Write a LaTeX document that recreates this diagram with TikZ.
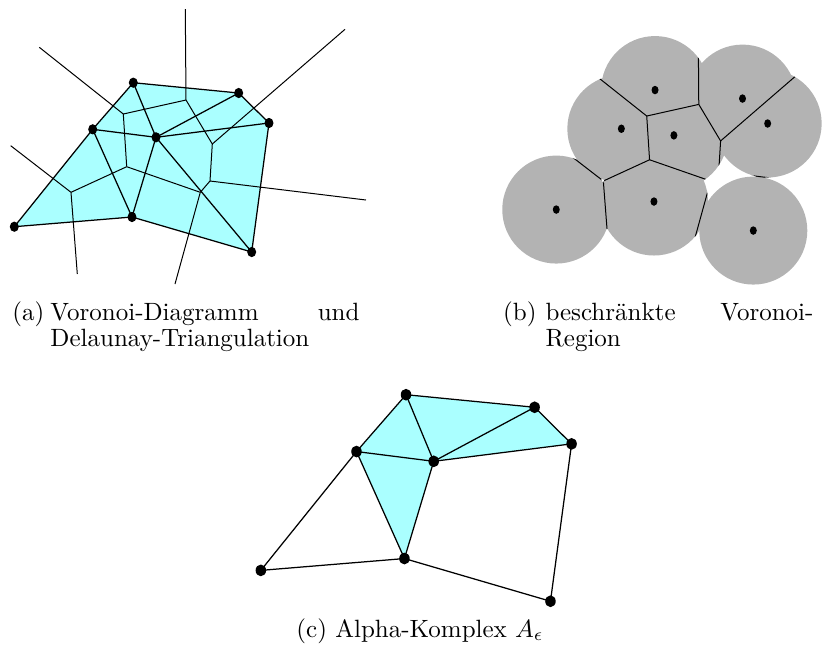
\documentclass[tikz,border=0pt]{standalone}
\usetikzlibrary{shapes.geometric}
\definecolor{cyanfill}{RGB}{170,255,255}
\definecolor{regiongray}{RGB}{179,179,179}
\tikzset{
  vor/.style={line width=0.4pt,black},
  del/.style={line width=0.5pt,black},
  dotA/.style={ellipse,fill=black,inner sep=0pt,minimum width=3.6pt,minimum height=4.1pt},
  dotB/.style={ellipse,fill=black,inner sep=0pt,minimum width=2.8pt,minimum height=3.4pt},
  dotC/.style={ellipse,fill=black,inner sep=0pt,minimum width=4.2pt,minimum height=4.7pt},
  captext/.style={inner sep=0pt,anchor=base west},
}
\def\sites{1/133.3/82.7, 2/238.7/93, 3/269/123, 4/92.7/129.3, 5/156/137.3, 6/14.3/226.7, 7/132/217, 8/251.7/252}
\def\vverts{1/123.3/114, 2/186/100, 3/212.3/144, 4/126.7/166.7, 5/71/192.3, 6/210/181, 7/200.3/192.3}
\def\rays{1/39.3/47.3, 2/185.3/9, 3/345/29.3, 4/10.7/145.7, 5/77.3/274, 6/366/200, 7/175/284}
\def\voredges{r1/v1, v1/v2, v2/r2, v2/v3, v3/r3, v3/v6, v6/r6, v6/v7, v7/r7, v7/v4, v4/v1, v4/v5, v5/r4, v5/r5}
\newcommand\mkpoints[1]{%
  \foreach \i/\px/\py in \sites {\coordinate (#1\i) at (\px,\py);}%
  \foreach \i/\px/\py in \vverts {\coordinate (#1v\i) at (\px,\py);}%
  \foreach \i/\px/\py in \rays {\coordinate (#1r\i) at (\px,\py);}%
}
\begin{document}
\begin{tikzpicture}[x=0.4pt,y=-0.4pt]
\useasboundingbox (0,0) rectangle (822,649);
% ---------- coordinates ----------
\begin{scope}\mkpoints{a}\end{scope}
\begin{scope}[shift={(544.4,21.4)},scale=0.83]\mkpoints{b}\end{scope}
\begin{scope}[shift={(243.4,293.8)},scale=1.22]\mkpoints{c}\end{scope}

% ---------- panel (a) ----------
\fill[cyanfill] (a1)--(a2)--(a3)--(a8)--(a7)--(a6)--(a4)--cycle;
\foreach \u/\v in \voredges {\draw[vor] (a\u) -- (a\v);}
\foreach \u/\v in {1/2,2/3,3/8,8/7,7/6,6/4,4/1,1/5,4/5,2/5,3/5,5/8,5/7,4/7}
  {\draw[del] (a\u) -- (a\v);}
\foreach \i in {1,...,8} {\node[dotA] (da\i) at (a\i) {};}

% ---------- panel (b) ----------
\foreach \i in {1,...,8} {\fill[regiongray] (b\i) circle[radius=21.6pt];}
\begin{scope}
  \clip (b1) circle[radius=21.6pt] (b2) circle[radius=21.6pt] (b3) circle[radius=21.6pt]
        (b4) circle[radius=21.6pt] (b5) circle[radius=21.6pt] (b6) circle[radius=21.6pt]
        (b7) circle[radius=21.6pt] (b8) circle[radius=21.6pt];
  \foreach \u/\v in \voredges {\draw[vor] (b\u) -- (b\v);}
\end{scope}
\foreach \i in {1,...,8} {\node[dotB] (db\i) at (b\i) {};}

% ---------- panel (c) ----------
\fill[cyanfill] (c1)--(c4)--(c5)--cycle (c1)--(c5)--(c2)--cycle
                (c2)--(c5)--(c3)--cycle (c4)--(c5)--(c7)--cycle;
\foreach \u/\v in {1/2,2/3,3/8,8/7,7/6,6/4,4/1,1/5,4/5,2/5,3/5,5/7,4/7}
  {\draw[del] (c\u) -- (c\v);}
\foreach \i in {1,...,8} {\node[dotC] (dc\i) at (c\i) {};}

% ---------- captions ----------
\node[captext] (capa) at (12,320) {(a)};
\node[captext] (capa1) at (50,320) {Voronoi-Diagramm};
\node[inner sep=0pt,anchor=base east] (capa2) at (360,320) {und};
\node[captext] (capa3) at (50,346) {Delaunay-Triangulation};
\node[captext] (capb) at (502.7,320) {(b)};
\node[captext] (capb1) at (545,320) {beschr\"ankte};
\node[inner sep=0pt,anchor=base east] (capb2) at (814,320) {Voronoi-};
\node[captext] (capb3) at (545,346) {Region};
\node[inner sep=0pt,anchor=base] (capc) at (420,637) {(c) Alpha-Komplex $A_\epsilon$};
\end{tikzpicture}
\end{document}
